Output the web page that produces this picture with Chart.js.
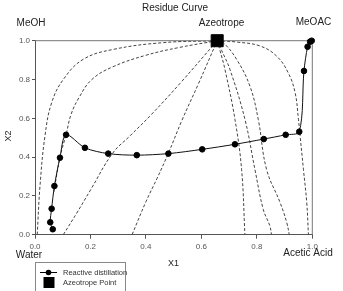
<!DOCTYPE html>
<html>
<head>
<meta charset="utf-8">
<script src="https://cdn.jsdelivr.net/npm/chart.js@4.4.1/dist/chart.umd.min.js"></script>
<style>
  body { margin: 0; background: #fff; }
  canvas { display: block; }
</style>
</head>
<body>
<canvas id="grafico" width="343" height="291"></canvas>
<script>
/* ---------- dados ---------- */
const tickValues = [0.0, 0.2, 0.4, 0.6, 0.8, 1.0];

// reactive distillation path
const rdX = [0.064, 0.055, 0.060, 0.070, 0.090, 0.112, 0.180, 0.264, 0.367, 0.481, 0.603, 0.721, 0.825, 0.904, 0.953, 0.970, 0.983, 0.992, 0.998];
const rdY = [0.028, 0.064, 0.134, 0.251, 0.397, 0.515, 0.448, 0.418, 0.410, 0.418, 0.440, 0.466, 0.493, 0.515, 0.531, 0.844, 0.969, 0.995, 1.000];

// azeotrope
const azeoX = [0.657];
const azeoY = [1.0];

// residue curves (dashed), one pair of arrays per curve
const residueX = [
  [0.008, 0.018, 0.036, 0.060, 0.102, 0.174, 0.282, 0.463, 0.657],
  [0.068, 0.090, 0.112, 0.130, 0.160, 0.205, 0.280, 0.400, 0.520, 0.657],
  [0.102, 0.150, 0.200, 0.280, 0.343, 0.420, 0.523, 0.657],
  [0.350, 0.400, 0.440, 0.481, 0.530, 0.590, 0.657],
  [0.657, 0.667, 0.685, 0.721, 0.745, 0.757],
  [0.657, 0.673, 0.703, 0.757, 0.793, 0.823, 0.847, 0.853],
  [0.657, 0.679, 0.727, 0.775, 0.805, 0.835, 0.884, 0.908, 0.917],
  [0.657, 0.727, 0.811, 0.871, 0.913, 0.938, 0.950, 0.956, 0.968, 0.980, 0.986]
];
const residueY = [
  [0.000, 0.250, 0.510, 0.680, 0.800, 0.904, 0.955, 0.990, 1.000],
  [0.220, 0.400, 0.515, 0.620, 0.710, 0.800, 0.865, 0.925, 0.965, 1.000],
  [0.000, 0.110, 0.230, 0.420, 0.510, 0.620, 0.780, 1.000],
  [0.000, 0.170, 0.290, 0.420, 0.590, 0.780, 1.000],
  [1.000, 0.950, 0.852, 0.595, 0.337, 0.000],
  [1.000, 0.950, 0.852, 0.595, 0.337, 0.131, 0.045, 0.000],
  [1.000, 0.990, 0.904, 0.766, 0.595, 0.337, 0.165, 0.062, 0.000],
  [1.000, 0.993, 0.973, 0.921, 0.835, 0.732, 0.595, 0.509, 0.337, 0.165, 0.000]
];

const cornerLabels = ["MeOH", "Azeotrope", "MeOAC", "Water", "Acetic Acid"];
const legendLabels = ["Reactive distillation", "Azeotrope Point"];

const FONT = "'Liberation Sans', Arial, sans-serif";
const pares = (xs, ys) => xs.map((x, i) => ({ x: x, y: ys[i] }));

/* ---------- datasets ---------- */
const datasets = [
  {
    label: legendLabels[1],
    data: pares(azeoX, azeoY),
    pointStyle: "rect",
    pointRadius: 8.5,
    backgroundColor: "#000",
    borderColor: "#000",
    clip: false
  },
  {
    label: legendLabels[0],
    data: pares(rdX, rdY),
    showLine: true,
    tension: 0.3,
    borderColor: "#111",
    borderWidth: 1,
    pointRadius: 2.8,
    pointBackgroundColor: "#000",
    pointBorderColor: "#000",
    clip: false
  }
];

residueX.forEach((xs, i) => {
  datasets.push({
    label: "residue " + (i + 1),
    data: pares(xs, residueY[i]),
    showLine: true,
    tension: 0.4,
    borderColor: "#444",
    borderWidth: 1,
    borderDash: [3, 2],
    pointRadius: 0
  });
});

/* ---------- textos e moldura ---------- */
const extras = {
  id: "extras",
  beforeDatasetsDraw(chart) {
    const { ctx, chartArea: a } = chart;
    ctx.save();
    ctx.strokeStyle = "#777";
    ctx.lineWidth = 1;
    ctx.beginPath();
    ctx.moveTo(a.left, a.top);
    ctx.lineTo(a.right, a.top);
    ctx.lineTo(a.right, a.bottom);
    ctx.stroke();
    ctx.restore();
  },
  afterDraw(chart) {
    const ctx = chart.ctx;
    ctx.save();
    ctx.fillStyle = "#222";
    ctx.textAlign = "center";
    ctx.textBaseline = "middle";

    ctx.font = "10px " + FONT;
    ctx.fillText("Residue Curve", 175, 8);
    ctx.fillText(cornerLabels[0], 31, 23.5);
    ctx.fillText(cornerLabels[1], 221.5, 23.5);
    ctx.fillText(cornerLabels[2], 313.5, 22.5);
    ctx.fillText(cornerLabels[3], 29, 255);
    ctx.fillText(cornerLabels[4], 308, 253.5);

    ctx.font = "9px " + FONT;
    ctx.fillText("X1", 173.5, 263.5);
    ctx.save();
    ctx.translate(9, 136);
    ctx.rotate(-Math.PI / 2);
    ctx.fillText("X2", 0, 0);
    ctx.restore();

    // legenda
    ctx.strokeStyle = "#888";
    ctx.lineWidth = 1;
    ctx.strokeRect(35.5, 262.5, 90, 40);

    ctx.strokeStyle = "#000";
    ctx.beginPath();
    ctx.moveTo(40, 272.5);
    ctx.lineTo(57, 272.5);
    ctx.stroke();
    ctx.fillStyle = "#000";
    ctx.beginPath();
    ctx.arc(48.5, 272.5, 2.8, 0, Math.PI * 2);
    ctx.fill();
    ctx.fillRect(43.5, 277, 11, 11);

    ctx.fillStyle = "#333";
    ctx.textAlign = "left";
    ctx.font = "7.5px " + FONT;
    ctx.fillText(legendLabels[0], 63, 272.5);
    ctx.fillText(legendLabels[1], 63, 283);
    ctx.restore();
  }
};

/* ---------- grafico ---------- */
const eixo = (pos) => ({
  type: "linear",
  position: pos,
  min: 0,
  max: 1,
  afterBuildTicks: (s) => { s.ticks = tickValues.map(v => ({ value: v })); },
  ticks: {
    color: "#555",
    font: { size: 8, family: FONT },
    padding: pos === "left" ? 2 : 3,
    maxRotation: 0,
    callback: (v) => Number(v).toFixed(1)
  },
  grid: {
    drawOnChartArea: false,
    drawTicks: true,
    tickLength: pos === "left" ? 3 : 4,
    color: "#555"
  },
  border: { display: true, color: "#555", width: 1 },
  afterFit: (s) => {
    if (pos === "left") s.width = 35;
    else s.height = 56.3;
  }
});

new Chart(document.getElementById("grafico"), {
  type: "scatter",
  data: { datasets: datasets },
  options: {
    responsive: false,
    animation: false,
    devicePixelRatio: 1,
    layout: { padding: { left: 0, right: 30.7, top: 40.7, bottom: 0 } },
    scales: { x: eixo("bottom"), y: eixo("left") },
    plugins: {
      legend: { display: false },
      tooltip: { enabled: false },
      title: { display: false }
    }
  },
  plugins: [extras]
});
</script>
</body>
</html>
